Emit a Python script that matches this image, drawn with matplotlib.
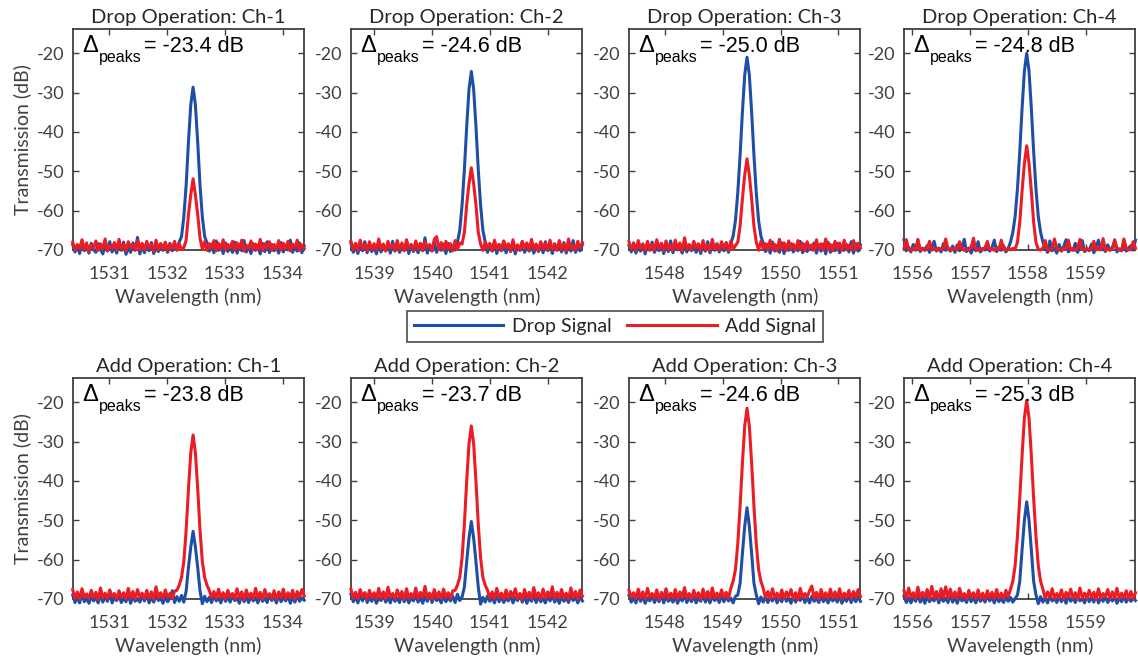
import numpy as np
import matplotlib
matplotlib.use("Agg")
import matplotlib.pyplot as plt
from matplotlib.lines import Line2D

plt.rcParams['font.family'] = ['Lato', 'DejaVu Sans']
plt.rcParams['axes.unicode_minus'] = False

#%% data (dB), sampled every 0.04 nm from wl_start
channels = ["Ch-1", "Ch-2", "Ch-3", "Ch-4"]
wl_start = [1530.37, 1538.60, 1547.38, 1555.86]
wl_step = 0.04
wl_ticks = [[1531, 1532, 1533, 1534], [1539, 1540, 1541, 1542],
            [1548, 1549, 1550, 1551], [1556, 1557, 1558, 1559]]
delta_drop_op = [-23.4, -24.6, -25.0, -24.8]
delta_add_op = [-23.8, -23.7, -24.6, -25.3]

# Drop operation, Ch-1
drop_op_drop_ch1 = [
    -68.6, -70.5, -68.9, -70.9, -67.8, -70.2, -69.1, -70.8, -68.3, -69.9,
    -70.6, -68.4, -69.8, -71.0, -68.7, -70.3, -67.9, -70.5, -69.2, -70.8,
    -68.5, -70.1, -68.0, -71.1, -69.4, -70.6, -68.2, -70.0, -66.8, -71.0,
    -69.0, -70.7, -68.6, -70.2, -68.1, -70.9, -69.3, -70.4, -68.4, -70.1,
    -68.9, -70.6, -68.3, -70.2, -69.0, -69.6, -68.0, -66.6, -61.6, -53.6,
    -42.6, -33.1, -28.6, -33.1, -42.6, -53.6, -61.6, -66.6, -68.2, -70.3,
    -68.5, -70.7, -67.7, -70.1, -68.8, -70.9, -68.2, -70.4, -69.1, -70.6,
    -68.0, -70.8, -68.7, -70.2, -67.6, -70.5, -69.0, -70.9, -68.4, -70.1,
    -68.9, -71.0, -68.3, -70.4, -67.9, -70.7, -68.6, -70.2, -69.2, -70.8,
    -68.1, -70.5, -68.8, -70.0, -67.5, -70.6, -68.9, -70.3, -68.2, -70.7,
    -69.0]
drop_op_add_ch1 = [
    -68.0, -70.0, -68.6, -69.7, -67.4, -69.9, -68.2, -70.3, -68.8, -69.5,
    -67.7, -70.1, -68.4, -69.8, -67.2, -70.2, -68.9, -69.6, -68.1, -70.0,
    -67.3, -69.8, -68.5, -70.2, -67.9, -69.4, -68.7, -70.1, -67.6, -69.9,
    -68.3, -70.0, -67.8, -69.5, -68.6, -70.3, -67.5, -69.9, -68.4, -69.7,
    -68.0, -70.2, -68.7, -69.6, -67.8, -70.1, -68.4, -69.9, -69.4, -67.5,
    -61.0, -56.0, -51.9, -56.0, -61.0, -67.0, -69.8, -67.9, -70.1, -68.4,
    -69.6, -67.6, -70.2, -68.3, -69.8, -67.4, -70.0, -68.6, -69.5, -67.8,
    -70.1, -68.2, -69.7, -67.5, -70.3, -68.8, -69.6, -67.7, -70.0, -68.5,
    -69.9, -67.3, -70.2, -68.4, -69.5, -67.9, -70.1, -68.6, -69.8, -67.6,
    -70.0, -68.3, -69.7, -67.8, -70.2, -68.5, -69.4, -67.5, -70.1, -68.7,
    -69.6]

# Drop operation, Ch-2
drop_op_drop_ch2 = [
    -68.3, -70.6, -69.0, -70.9, -68.5, -70.2, -67.9, -70.7, -68.8, -70.4,
    -69.1, -71.0, -68.2, -70.5, -68.9, -70.1, -68.4, -70.8, -67.8, -70.3,
    -68.7, -70.6, -69.2, -70.0, -68.1, -70.9, -68.6, -70.4, -69.0, -70.7,
    -68.4, -70.2, -66.9, -70.8, -68.8, -70.3, -68.0, -70.6, -69.1, -70.1,
    -68.5, -70.9, -68.3, -70.4, -68.9, -70.0, -68.0, -65.0, -58.6, -49.6,
    -38.6, -29.1, -24.6, -29.1, -38.6, -49.6, -58.6, -65.0, -68.0, -70.6,
    -68.7, -70.3, -68.1, -70.9, -68.6, -70.2, -67.8, -70.7, -68.9, -70.4,
    -68.3, -71.0, -68.8, -70.1, -68.0, -70.6, -69.2, -70.3, -68.5, -70.8,
    -68.9, -70.4, -68.2, -70.7, -67.9, -70.2, -68.6, -70.9, -68.4, -70.0,
    -69.0, -70.5, -68.1, -70.8, -68.7, -70.3, -67.6, -70.6, -68.9, -70.2,
    -68.6]
drop_op_add_ch2 = [
    -67.8, -69.9, -68.3, -70.1, -67.5, -69.6, -68.6, -70.2, -67.9, -69.8,
    -68.4, -70.0, -67.2, -69.7, -68.5, -70.3, -67.8, -69.5, -68.7, -70.1,
    -67.6, -69.9, -68.2, -70.2, -67.4, -69.6, -68.8, -70.0, -67.7, -69.8,
    -68.3, -70.1, -67.9, -69.5, -68.6, -70.2, -67.3, -66.6, -69.9, -68.1,
    -70.0, -67.8, -69.7, -68.4, -70.2, -67.6, -69.9, -68.2, -68.5, -65.5,
    -58.5, -53.1, -49.1, -53.1, -58.5, -65.5, -68.5, -70.1, -67.9, -69.6,
    -68.3, -70.2, -67.5, -69.8, -68.6, -70.0, -67.7, -69.5, -68.4, -70.3,
    -67.4, -69.9, -68.7, -70.1, -67.8, -69.6, -68.2, -70.0, -67.3, -69.8,
    -68.5, -70.2, -67.9, -69.7, -68.3, -70.0, -67.5, -69.9, -68.6, -70.1,
    -67.6, -69.8, -68.4, -70.3, -67.2, -69.7, -68.8, -70.0, -67.8, -69.5,
    -68.1]

# Drop operation, Ch-3
drop_op_drop_ch3 = [
    -68.9, -70.5, -68.2, -70.8, -69.0, -70.3, -68.5, -71.0, -68.7, -70.1,
    -68.0, -70.6, -69.1, -70.2, -68.4, -70.9, -68.8, -70.4, -67.7, -70.7,
    -68.6, -70.0, -69.2, -70.8, -68.3, -70.5, -68.9, -70.2, -68.1, -70.6,
    -69.0, -70.9, -68.5, -70.3, -67.9, -70.7, -68.7, -70.1, -68.4, -70.5,
    -68.8, -70.2, -68.1, -70.6, -68.3, -66.5, -62.5, -55.5, -46.0, -35.0,
    -25.5, -21.0, -25.5, -35.0, -46.0, -55.5, -62.5, -66.5, -68.3, -70.4,
    -68.6, -70.8, -68.0, -70.3, -68.9, -70.6, -68.2, -70.9, -68.7, -70.1,
    -68.4, -70.5, -69.1, -70.2, -67.8, -70.7, -68.6, -70.4, -68.9, -70.0,
    -68.2, -70.8, -68.7, -70.3, -68.5, -71.0, -68.0, -70.6, -68.8, -70.2,
    -68.3, -70.7, -68.9, -70.1, -68.6, -70.5, -67.9, -70.8, -68.4, -70.3,
    -68.7]
drop_op_add_ch3 = [
    -67.9, -69.8, -68.4, -70.1, -67.6, -69.7, -68.5, -70.2, -67.8, -69.9,
    -68.6, -70.0, -67.4, -69.6, -68.3, -70.2, -67.7, -69.8, -68.8, -70.1,
    -67.5, -69.9, -68.2, -70.3, -66.9, -69.7, -68.6, -70.0, -67.8, -69.5,
    -68.4, -70.2, -67.6, -69.9, -68.7, -70.1, -67.3, -69.8, -68.5, -70.0,
    -67.9, -69.6, -68.3, -70.2, -67.7, -69.8, -68.9, -68.0, -64.0, -57.0,
    -51.0, -46.8, -51.0, -57.0, -64.0, -68.0, -70.1, -67.8, -69.7, -68.4,
    -70.0, -67.5, -69.9, -68.6, -70.2, -67.3, -69.8, -68.2, -70.1, -67.7,
    -69.6, -68.5, -70.0, -67.6, -69.9, -68.3, -70.2, -67.9, -69.7, -68.7,
    -70.1, -67.4, -69.8, -68.4, -70.0, -67.2, -69.9, -68.6, -70.2, -67.8,
    -69.7, -68.2, -70.1, -67.5, -69.8, -68.8, -70.0, -67.6, -69.9, -68.3,
    -69.5]

# Drop operation, Ch-4
drop_op_drop_ch4 = [
    -67.4, -70.2, -69.3, -70.5, -68.6, -70.1, -67.6, -70.4, -69.5, -70.0,
    -68.9, -70.6, -69.2, -67.8, -70.3, -69.6, -70.5, -68.4, -70.1, -69.4,
    -70.3, -69.0, -70.6, -68.7, -70.2, -69.7, -67.3, -70.4, -69.5, -70.8,
    -69.1, -70.2, -67.9, -70.5, -69.6, -70.0, -68.8, -70.3, -69.4, -67.5,
    -70.4, -69.2, -70.1, -68.9, -70.5, -69.6, -68.0, -65.5, -61.5, -54.5,
    -45.0, -34.0, -24.5, -20.0, -24.5, -34.0, -45.0, -54.5, -61.5, -65.5,
    -68.0, -69.4, -70.6, -67.7, -70.2, -69.5, -70.8, -68.6, -70.3, -69.1,
    -67.4, -70.5, -69.7, -70.1, -68.3, -70.6, -69.2, -67.6, -70.4, -69.8,
    -70.2, -68.5, -70.7, -69.3, -67.5, -70.0, -69.6, -70.4, -68.7, -70.1,
    -69.4, -67.8, -70.5, -69.7, -70.2, -67.6, -70.3, -69.5, -68.9, -70.0,
    -67.5]
drop_op_add_ch4 = [
    -69.6, -67.4, -69.9, -70.1, -69.5, -69.9, -67.3, -70.0, -69.6, -70.1,
    -69.8, -67.8, -70.0, -69.6, -70.1, -69.5, -69.9, -69.7, -67.2, -69.8,
    -70.1, -69.7, -69.5, -70.0, -67.9, -69.7, -70.1, -69.6, -70.0, -69.4,
    -67.0, -69.9, -70.1, -69.6, -70.0, -69.4, -67.8, -70.0, -69.7, -70.1,
    -69.6, -70.0, -67.5, -69.7, -70.1, -69.5, -70.0, -69.6, -69.8, -68.0,
    -63.0, -55.0, -48.0, -43.5, -48.0, -55.0, -63.0, -68.0, -69.9, -70.0,
    -69.5, -67.6, -70.0, -70.1, -69.6, -67.2, -69.7, -70.0, -70.1, -69.5,
    -69.9, -67.5, -70.0, -69.6, -70.1, -69.5, -67.3, -69.9, -70.0, -69.6,
    -70.1, -69.7, -67.8, -70.0, -69.5, -69.9, -67.1, -70.1, -69.6, -70.0,
    -69.7, -67.4, -69.5, -70.0, -70.1, -67.2, -69.6, -70.0, -69.8, -67.9,
    -69.6]

# Add operation, Ch-1
add_op_drop_ch1 = [
    -69.0, -70.9, -69.5, -71.0, -68.6, -70.7, -69.8, -71.1, -69.2, -70.5,
    -69.6, -71.0, -68.9, -70.8, -69.4, -70.6, -68.2, -71.0, -69.7, -70.4,
    -69.1, -70.9, -69.6, -70.7, -68.8, -71.1, -69.3, -70.6, -69.9, -70.8,
    -69.2, -70.5, -68.7, -71.0, -69.5, -70.8, -69.0, -70.4, -69.7, -71.1,
    -69.3, -70.7, -69.8, -67.9, -70.9, -69.4, -70.6, -69.1, -70.8, -68.0,
    -62.0, -56.8, -52.8, -56.8, -62.0, -68.0, -71.2, -69.3, -70.7, -69.6,
    -70.9, -69.0, -70.5, -69.7, -71.0, -68.9, -70.6, -69.4, -70.8, -69.1,
    -70.4, -69.8, -71.1, -68.8, -70.7, -69.5, -70.9, -69.2, -70.5, -69.6,
    -71.0, -69.1, -70.6, -69.7, -70.9, -68.7, -70.4, -69.4, -71.0, -69.0,
    -70.7, -69.6, -70.5, -69.2, -71.1, -69.5, -70.8, -68.9, -70.6, -69.7,
    -70.3]
add_op_add_ch1 = [
    -67.6, -69.8, -68.2, -70.0, -67.4, -69.5, -68.7, -69.9, -67.8, -69.6,
    -68.3, -70.1, -67.2, -69.7, -68.5, -69.9, -67.7, -69.4, -68.6, -70.0,
    -67.9, -69.6, -68.4, -69.9, -67.3, -69.8, -68.1, -70.0, -67.6, -69.5,
    -68.5, -69.9, -67.8, -69.7, -68.2, -70.1, -66.9, -69.6, -68.4, -69.8,
    -67.7, -69.5, -68.6, -69.9, -68.0, -67.8, -66.5, -64.5, -60.5, -52.5,
    -42.0, -32.8, -28.3, -32.8, -42.0, -52.5, -60.5, -64.5, -66.5, -67.8,
    -69.6, -68.1, -69.9, -67.5, -69.7, -68.4, -70.0, -67.8, -69.5, -68.6,
    -69.9, -67.4, -69.8, -68.2, -70.1, -67.7, -69.6, -68.5, -69.9, -67.3,
    -69.7, -68.3, -70.0, -67.6, -69.5, -68.7, -69.8, -67.9, -70.1, -68.2,
    -69.6, -67.5, -69.9, -68.4, -69.7, -67.8, -70.0, -68.1, -69.5, -67.6,
    -69.2]

# Add operation, Ch-2
add_op_drop_ch2 = [
    -68.8, -70.7, -69.4, -71.0, -69.0, -70.5, -68.4, -70.9, -69.6, -70.6,
    -69.2, -71.1, -69.7, -70.4, -68.9, -70.8, -69.5, -71.0, -69.1, -70.6,
    -69.8, -70.9, -68.6, -70.7, -69.3, -71.0, -69.6, -70.5, -69.0, -70.8,
    -69.5, -71.1, -69.2, -70.6, -68.7, -70.9, -69.4, -70.4, -69.8, -71.0,
    -69.1, -70.7, -69.6, -70.5, -69.3, -70.9, -68.8, -70.4, -69.5, -67.0,
    -60.5, -54.5, -50.3, -54.5, -60.5, -67.0, -71.3, -69.6, -70.8, -69.2,
    -70.6, -69.5, -71.0, -68.9, -70.7, -69.4, -70.9, -69.7, -70.5, -69.1,
    -71.0, -69.6, -70.4, -68.7, -70.8, -69.3, -71.1, -69.5, -70.6, -69.0,
    -70.9, -69.4, -70.7, -69.8, -71.0, -69.2, -70.5, -68.9, -70.8, -69.6,
    -71.1, -69.3, -70.6, -69.7, -70.9, -69.0, -70.4, -69.5, -71.0, -69.4,
    -70.5]
add_op_add_ch2 = [
    -67.5, -69.7, -68.3, -69.9, -67.6, -69.4, -68.5, -70.0, -67.8, -69.6,
    -68.4, -69.9, -67.3, -69.8, -68.2, -70.0, -67.0, -69.5, -68.6, -69.9,
    -67.7, -69.6, -68.1, -70.1, -67.4, -69.8, -68.6, -69.7, -67.2, -69.9,
    -68.3, -69.5, -66.8, -69.8, -68.5, -70.0, -67.6, -69.7, -68.2, -69.9,
    -67.5, -69.6, -68.4, -69.8, -67.9, -67.8, -66.5, -64.5, -59.5, -51.0,
    -40.0, -30.5, -26.0, -30.5, -40.0, -51.0, -59.5, -64.5, -66.5, -67.8,
    -69.7, -68.2, -69.9, -67.3, -69.6, -68.5, -70.0, -67.7, -69.8, -68.1,
    -69.5, -67.4, -69.9, -68.6, -70.1, -67.6, -69.7, -68.3, -69.9, -67.1,
    -69.6, -68.4, -70.0, -67.5, -69.8, -68.2, -69.5, -66.9, -69.9, -68.3,
    -69.7, -67.6, -69.8, -68.5, -70.0, -67.2, -69.6, -68.1, -69.9, -67.7,
    -69.3]

# Add operation, Ch-3
add_op_drop_ch3 = [
    -69.1, -70.8, -69.6, -71.0, -68.9, -70.6, -69.4, -71.1, -69.7, -70.5,
    -69.0, -70.9, -69.5, -70.7, -68.7, -71.0, -69.3, -70.6, -69.8, -70.8,
    -69.2, -71.1, -69.6, -70.5, -68.8, -70.9, -69.4, -70.7, -69.1, -71.0,
    -69.7, -70.6, -68.9, -70.8, -69.5, -71.0, -69.2, -70.4, -69.6, -70.9,
    -69.0, -70.7, -69.4, -70.5, -69.8, -71.0, -69.3, -69.0, -66.0, -58.5,
    -51.5, -46.8, -51.5, -58.5, -66.0, -69.0, -71.2, -69.5, -70.8, -69.3,
    -70.9, -69.6, -70.5, -69.1, -71.0, -69.4, -70.7, -68.9, -70.6, -69.7,
    -71.1, -69.2, -70.8, -69.5, -70.4, -69.0, -70.9, -69.6, -71.0, -69.3,
    -70.6, -69.8, -70.9, -69.1, -70.7, -69.5, -71.0, -69.4, -70.5, -69.7,
    -70.8, -69.2, -71.1, -69.6, -70.6, -69.0, -70.9, -69.5, -70.7, -69.3,
    -70.6]
add_op_add_ch3 = [
    -67.8, -69.6, -68.4, -69.9, -67.5, -69.7, -68.2, -70.0, -67.3, -69.5,
    -68.6, -69.8, -67.7, -70.1, -68.3, -69.6, -67.4, -69.9, -68.5, -69.7,
    -67.6, -70.0, -68.2, -69.5, -67.1, -69.8, -68.6, -69.9, -67.8, -69.6,
    -68.4, -70.1, -67.5, -69.7, -68.1, -69.9, -67.2, -69.6, -68.5, -69.8,
    -67.7, -69.5, -68.3, -69.8, -67.3, -65.5, -62.5, -56.0, -46.5, -35.5,
    -26.0, -21.5, -26.0, -35.5, -46.5, -56.0, -62.5, -65.5, -67.3, -69.7,
    -68.1, -69.9, -67.4, -69.6, -68.5, -70.0, -67.7, -69.8, -68.2, -69.5,
    -67.6, -69.9, -68.4, -70.1, -67.3, -69.7, -68.6, -69.5, -67.9, -66.7,
    -69.8, -68.3, -70.0, -67.6, -69.6, -68.4, -69.9, -67.5, -69.7, -68.2,
    -69.8, -67.4, -70.0, -68.5, -69.6, -67.8, -69.9, -68.1, -69.5, -67.6,
    -69.4]

# Add operation, Ch-4
add_op_drop_ch4 = [
    -69.3, -70.9, -69.7, -71.0, -69.5, -70.6, -68.9, -70.8, -69.6, -71.1,
    -69.2, -70.7, -69.8, -70.5, -69.0, -71.0, -69.4, -70.6, -69.7, -70.9,
    -68.8, -70.8, -69.5, -71.1, -69.3, -70.5, -69.8, -70.9, -69.1, -70.7,
    -69.6, -71.0, -69.2, -70.6, -69.7, -70.8, -69.0, -70.5, -69.5, -71.0,
    -69.3, -70.7, -69.8, -70.9, -69.4, -70.6, -69.6, -70.8, -69.9, -69.0,
    -65.5, -57.5, -50.0, -45.3, -50.0, -57.5, -65.5, -69.0, -71.2, -69.4,
    -70.8, -69.6, -71.0, -69.2, -70.5, -69.8, -70.9, -69.3, -70.7, -69.5,
    -71.1, -69.0, -70.6, -69.7, -70.9, -69.4, -70.5, -69.8, -71.0, -69.2,
    -70.7, -69.5, -70.8, -69.1, -71.0, -69.6, -70.6, -69.3, -70.9, -69.7,
    -70.5, -69.4, -71.1, -69.6, -70.7, -69.2, -70.8, -69.5, -70.6, -69.8,
    -70.4]
add_op_add_ch4 = [
    -67.9, -69.8, -67.2, -69.6, -68.4, -69.9, -67.0, -69.7, -68.3, -69.5,
    -67.6, -69.9, -66.8, -69.7, -68.1, -70.0, -67.4, -69.6, -66.9, -69.8,
    -67.5, -69.7, -68.2, -69.9, -67.3, -69.5, -68.6, -70.0, -67.8, -69.6,
    -68.4, -69.9, -67.7, -69.8, -68.5, -70.1, -67.9, -69.6, -68.3, -69.9,
    -67.6, -69.7, -68.5, -69.9, -67.8, -69.4, -67.5, -65.5, -61.5, -54.0,
    -44.5, -33.5, -24.0, -19.5, -24.0, -33.5, -44.5, -54.0, -61.5, -65.5,
    -67.5, -69.8, -68.2, -69.6, -67.4, -69.9, -68.6, -69.7, -67.7, -70.0,
    -68.3, -69.5, -67.5, -69.8, -68.4, -70.0, -67.2, -69.7, -68.5, -69.9,
    -67.8, -69.6, -68.3, -70.1, -67.4, -69.8, -68.6, -69.5, -67.6, -69.9,
    -68.2, -69.7, -67.3, -69.9, -68.5, -69.6, -67.9, -70.0, -68.1, -69.8,
    -68.4]

drop_op_drop = [drop_op_drop_ch1, drop_op_drop_ch2, drop_op_drop_ch3, drop_op_drop_ch4]
drop_op_add = [drop_op_add_ch1, drop_op_add_ch2, drop_op_add_ch3, drop_op_add_ch4]
add_op_drop = [add_op_drop_ch1, add_op_drop_ch2, add_op_drop_ch3, add_op_drop_ch4]
add_op_add = [add_op_add_ch1, add_op_add_ch2, add_op_add_ch3, add_op_add_ch4]

#%% styling
BLUE = '#1F4FA5'
RED = '#EC1C24'
GRAY = '#404040'

rows = [
    ("Drop", drop_op_drop, drop_op_add, delta_drop_op),
    ("Add", add_op_drop, add_op_add, delta_add_op),
]
lefts = [0.0639, 0.3084, 0.5527, 0.7944]
bottoms = [0.6201, 0.0897]
ax_w, ax_h = 0.2034, 0.3359

fig = plt.figure(figsize=(11.38, 6.58), dpi=100)

for r, (op, blue_set, red_set, deltas) in enumerate(rows):
    for c, ch in enumerate(channels):
        ax = fig.add_axes([lefts[c], bottoms[r], ax_w, ax_h])
        blue = np.array(blue_set[c])
        red = np.array(red_set[c])
        wl = wl_start[c] + wl_step * np.arange(len(blue))
        ax.plot(wl, blue, color=BLUE, lw=2.2, clip_on=False, zorder=3)
        ax.plot(wl, red, color=RED, lw=2.2, clip_on=False, zorder=3)

        ax.set_xlim(wl_start[c], wl_start[c] + 4.0)
        ax.set_ylim(-70, -13.8)
        ax.set_xticks(wl_ticks[c])
        ax.set_yticks([-70, -60, -50, -40, -30, -20])
        ax.tick_params(direction='in', top=True, right=True, length=4,
                       width=1, colors=GRAY, labelsize=13)
        ax.tick_params(axis='x', pad=11.5)
        ax.tick_params(axis='y', pad=6)
        for s in ax.spines.values():
            s.set_color(GRAY)
            s.set_linewidth(1.3)

        ax.set_title(f"{op} Operation: {ch}", fontsize=14.5, color='#262626', pad=4)
        ax.set_xlabel("Wavelength (nm)", fontsize=14, color=GRAY, labelpad=4)
        if c == 0:
            ax.set_ylabel("Transmission (dB)", fontsize=14, color=GRAY, labelpad=4)

        # Delta_peaks label: big delta, lowered subscript, then the value
        t1 = ax.text(0.04, 0.897, '\u0394', transform=ax.transAxes, ha='left',
                     va='baseline', fontsize=17, family='Liberation Sans', color='black')
        t2 = ax.annotate('peaks', xy=(1, 0), xycoords=t1, xytext=(0.5, -6),
                         textcoords='offset points', ha='left', va='bottom',
                         fontsize=11.5, family='Liberation Sans', color='black')
        ax.annotate(f'= {deltas[c]:.1f} dB', xy=(1, 0), xycoords=(t2, t1),
                    xytext=(2, 0), textcoords='offset points', ha='left',
                    va='bottom', fontsize=15.5, family='Liberation Sans', color='black')

handles = [Line2D([], [], color=BLUE, lw=2.2), Line2D([], [], color=RED, lw=2.2)]
leg = fig.legend(handles, ["Drop Signal", "Add Signal"], loc='center',
                 bbox_to_anchor=(0.5404, 0.5038), ncol=2, fontsize=14,
                 frameon=True, fancybox=False, edgecolor='#303030',
                 handlelength=4.6, handletextpad=0.45, columnspacing=0.8,
                 borderpad=0.35)
leg.get_frame().set_linewidth(1.3)
for t in leg.get_texts():
    t.set_color('#262626')

fig.savefig("out.png", dpi=100)
